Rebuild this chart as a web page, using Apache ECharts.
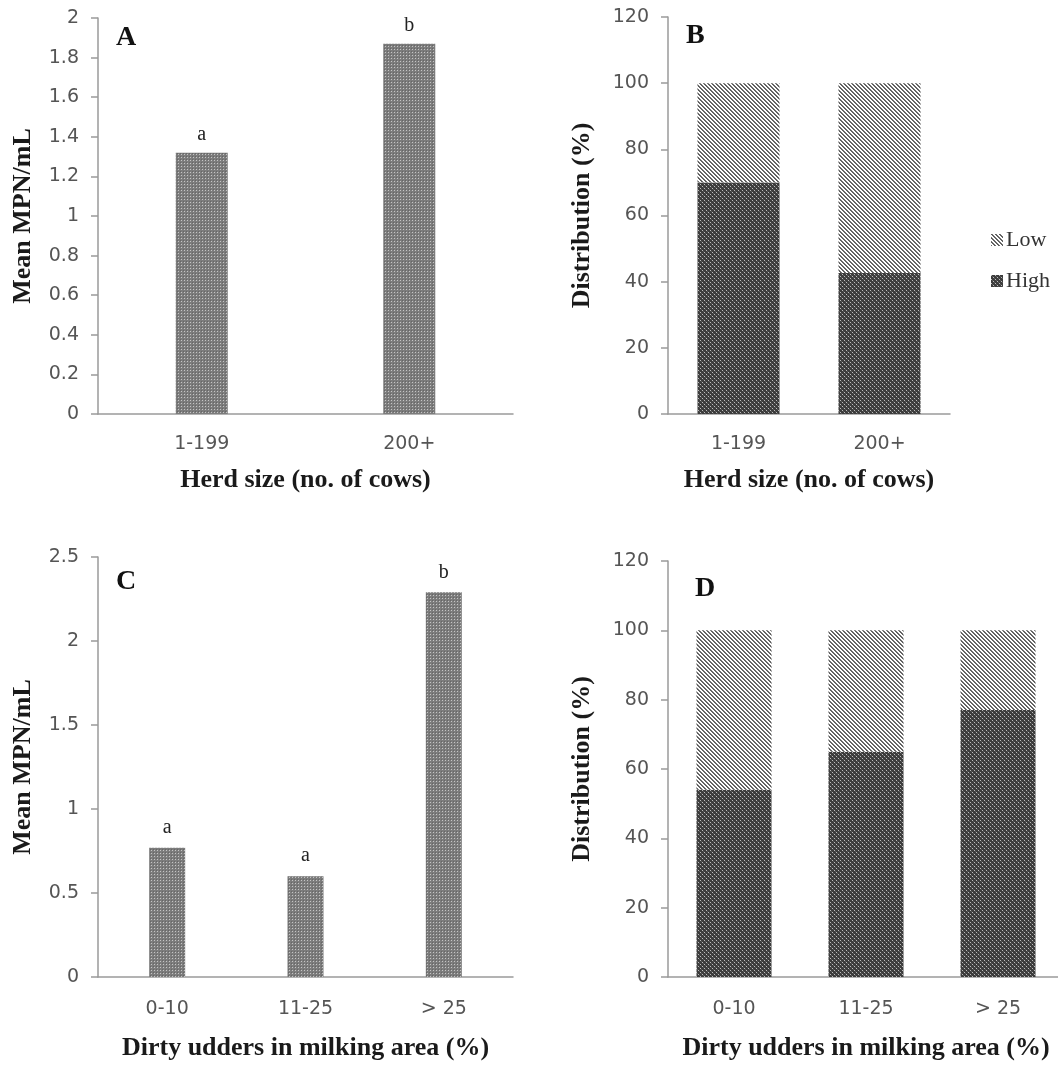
<!DOCTYPE html>
<html><head><meta charset="utf-8">
<script src="https://cdn.jsdelivr.net/npm/echarts@6/dist/echarts.min.js"></script>
<style>html,body{margin:0;padding:0;background:#fff}#c{width:1058px;height:1068px}</style>
</head><body><div id="c"></div>
<script>
// ---- data ----
const herdCats = ['1-199', '200+'];
const herdMean = [1.32, 1.87];
const herdSig = ['a', 'b'];
const herdHigh = [70, 42.6];
const herdLow = [30, 57.4];
const udderCats = ['0-10', '11-25', '> 25'];
const udderMean = [0.77, 0.60, 2.29];
const udderSig = ['a', 'a', 'b'];
const udderHigh = [54, 65, 77];
const udderLow = [46, 35, 23];
const panelLetters = ['A', 'B', 'C', 'D'];
const meanTitle = 'Mean MPN/mL';
const distTitle = 'Distribution (%)';
const herdTitle = 'Herd size (no. of cows)';
const udderTitle = 'Dirty udders in milking area (%)';

// ---- patterns ----
function pattern(w, h, bg, pts) {
  const c = document.createElement('canvas');
  c.width = w; c.height = h;
  const g = c.getContext('2d');
  g.fillStyle = bg; g.fillRect(0, 0, w, h);
  pts.forEach(p => { g.fillStyle = p[2]; g.fillRect(p[0], p[1], 1, 1); });
  return { image: c, repeat: 'repeat' };
}
const meanFill = pattern(3, 3, '#7c7c7c', [[1, 1, '#c4c4c4'], [0, 0, '#666666']]);
const highFill = pattern(4, 4, '#3c3c3c', [[0, 0, '#bcbcbc'], [2, 2, '#bcbcbc'], [1, 1, '#5a5a5a'], [3, 3, '#5a5a5a']]);
const lowPts = [];
for (let y = 0; y < 4; y++) { lowPts.push([y, y, '#5c5c5c']); lowPts.push([(y + 1) % 4, y, '#6e6e6e']); }
const lowFill = pattern(4, 4, '#ffffff', lowPts);

const serif = 'Liberation Serif';
const sans = 'DejaVu Sans';
const axisCol = '#9a9a9a';
const labCol = '#555';

function yAx(gi, max, interval, name, gap) {
  return {
    type: 'value', gridIndex: gi, min: 0, max: max, interval: interval,
    name: name, nameLocation: 'middle', nameRotate: 90, nameGap: gap,
    nameTextStyle: { fontFamily: serif, fontWeight: 'bold', fontSize: 26, color: '#1a1a1a' },
    axisLine: { show: true, lineStyle: { color: axisCol, width: 1.5 } },
    axisTick: { show: true, length: 7, lineStyle: { color: axisCol, width: 1.5 } },
    axisLabel: { fontFamily: sans, fontSize: 19, color: labCol, margin: 19 },
    splitLine: { show: false }
  };
}
function xAx(gi, cats, name, gap, margin) {
  return {
    type: 'category', gridIndex: gi, data: cats,
    name: name, nameLocation: 'middle', nameGap: gap,
    nameTextStyle: { fontFamily: serif, fontWeight: 'bold', fontSize: 26, color: '#1a1a1a' },
    axisLine: { show: true, lineStyle: { color: axisCol, width: 1.5 } },
    axisTick: { show: false },
    axisLabel: { fontFamily: sans, fontSize: 19, color: labCol, margin: margin }
  };
}
function sigLabel(arr, dist) {
  return { show: true, position: 'top', distance: dist, fontFamily: serif, fontSize: 20, color: '#222',
           formatter: p => arr[p.dataIndex] };
}

const gridBase = { containLabel: false, outerBoundsMode: 'none' };
const option = {
  animation: false,
  backgroundColor: '#fff',
  grid: [
    Object.assign({ left: 98, top: 18, width: 415, height: 396 }, gridBase),
    Object.assign({ left: 668, top: 17, width: 282, height: 397 }, gridBase),
    Object.assign({ left: 98, top: 557, width: 415, height: 420 }, gridBase),
    Object.assign({ left: 668, top: 561, width: 396, height: 416 }, gridBase)
  ],
  xAxis: [
    xAx(0, herdCats, herdTitle, 53, 21),
    xAx(1, herdCats, herdTitle, 53, 21),
    xAx(2, udderCats, udderTitle, 58, 23),
    xAx(3, udderCats, udderTitle, 58, 23)
  ],
  yAxis: [
    yAx(0, 2, 0.2, meanTitle, 62),
    yAx(1, 120, 20, distTitle, 73),
    yAx(2, 2.5, 0.5, meanTitle, 62),
    yAx(3, 120, 20, distTitle, 73)
  ],
  legend: {
    orient: 'vertical', left: 986, top: 224, itemWidth: 12, itemHeight: 12, itemGap: 19,
    icon: 'rect',
    data: ['Low', 'High'],
    textStyle: { fontFamily: serif, fontSize: 22, color: '#333', padding: [0, 0, 0, -2] }
  },
  series: [
    { type: 'bar', xAxisIndex: 0, yAxisIndex: 0, data: herdMean, barWidth: 52,
      itemStyle: { color: meanFill }, label: sigLabel(herdSig, 8) },
    { name: 'High', type: 'bar', stack: 'b', xAxisIndex: 1, yAxisIndex: 1, data: herdHigh, barWidth: 82,
      itemStyle: { color: highFill } },
    { name: 'Low', type: 'bar', stack: 'b', xAxisIndex: 1, yAxisIndex: 1, data: herdLow, barWidth: 82,
      itemStyle: { color: lowFill } },
    { type: 'bar', xAxisIndex: 2, yAxisIndex: 2, data: udderMean, barWidth: 36,
      itemStyle: { color: meanFill }, label: sigLabel(udderSig, 10) },
    { name: 'High', type: 'bar', stack: 'd', xAxisIndex: 3, yAxisIndex: 3, data: udderHigh, barWidth: 75,
      itemStyle: { color: highFill } },
    { name: 'Low', type: 'bar', stack: 'd', xAxisIndex: 3, yAxisIndex: 3, data: udderLow, barWidth: 75,
      itemStyle: { color: lowFill } }
  ],
  graphic: [
    { type: 'text', left: 116, top: 24, style: { text: panelLetters[0], font: 'bold 28px "Liberation Serif"', fill: '#111' } },
    { type: 'text', left: 686, top: 22, style: { text: panelLetters[1], font: 'bold 28px "Liberation Serif"', fill: '#111' } },
    { type: 'text', left: 116, top: 568, style: { text: panelLetters[2], font: 'bold 28px "Liberation Serif"', fill: '#111' } },
    { type: 'text', left: 695, top: 575, style: { text: panelLetters[3], font: 'bold 28px "Liberation Serif"', fill: '#111' } }
  ]
};
const chart = echarts.init(document.getElementById('c'), null, { renderer: 'canvas' });
chart.setOption(option);
</script></body></html>
